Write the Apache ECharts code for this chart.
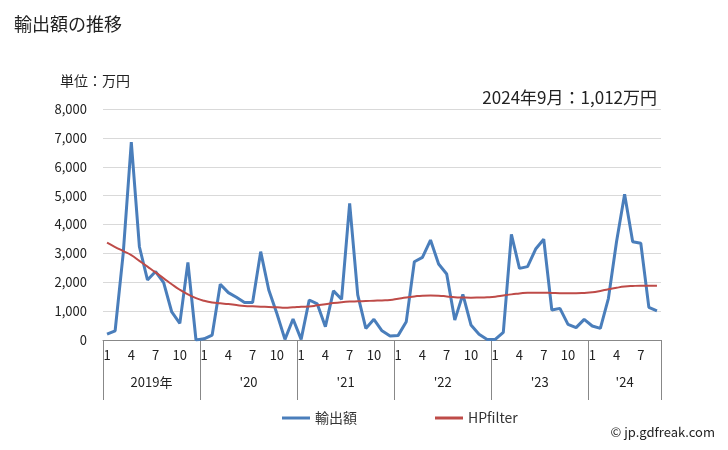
<!DOCTYPE html>
<html><head><meta charset="utf-8">
<script src="https://cdn.jsdelivr.net/npm/echarts@6/dist/echarts.min.js"></script>
<style>html,body{margin:0;padding:0;background:#fff}#c{width:728px;height:450px}</style>
</head><body><div id="c"></div>
<script>
const years = [2019, 2020, 2021, 2022, 2023, 2024];
const yearLabels = ['2019年', "'20", "'21", "'22", "'23", "'24"];
const monthsPerYear = [12, 12, 12, 12, 12, 9];
const monthTickLabels = [1, 4, 7, 10];
const exportValues = [
  200, 320, 3000, 6850, 3230, 2080, 2370, 1985, 970, 577, 2690, 0,
  40, 170, 1930, 1640, 1480, 1300, 1300, 3060, 1730, 920, 20, 727,
  20, 1385, 1250, 462, 1700, 1410, 4730, 1560, 400, 715, 320, 140,
  160, 635, 2710, 2860, 3460, 2630, 2285, 690, 1580, 520, 200, 20,
  20, 265, 3660, 2480, 2540, 3150, 3490, 1040, 1095, 543, 427, 715,
  485, 404, 1443, 3400, 5045, 3405, 3350, 1130, 1012
];
const hpValues = [
  3370, 3220, 3080, 2940, 2740, 2540, 2340, 2135, 1930, 1740, 1580, 1450,
  1360, 1300, 1270, 1245, 1210, 1180, 1165, 1155, 1140, 1130, 1115, 1130,
  1150, 1160, 1200, 1240, 1280, 1310, 1330, 1340, 1350, 1360, 1370, 1385,
  1430, 1475, 1510, 1535, 1540, 1535, 1510, 1480, 1470, 1465, 1470, 1480,
  1500, 1540, 1580, 1610, 1640, 1640, 1640, 1630, 1620, 1620, 1620, 1630,
  1650, 1700, 1760, 1810, 1850, 1870, 1880, 1880, 1880
];
const yTicks = [0, 1000, 2000, 3000, 4000, 5000, 6000, 7000, 8000];

const categories = [];
years.forEach((y, i) => { for (let m = 1; m <= monthsPerYear[i]; m++) categories.push(y + '-' + m); });
const boundaries = [0]; const centers = [];
monthsPerYear.forEach((n, i) => { const s = boundaries[boundaries.length - 1]; centers.push(s + n / 2); boundaries.push(s + n); });

const FONT = '"Noto Sans CJK JP", "Noto Sans", sans-serif';
const chart = echarts.init(document.getElementById('c'));
chart.setOption({
  animation: false,
  textStyle: { fontFamily: FONT },
  title: [
    { text: '輸出額の推移', left: 9, top: 10, textStyle: { fontSize: 18, fontWeight: 'normal', color: '#222', fontFamily: FONT } },
    { text: '単位：万円', left: 55, top: 69, textStyle: { fontSize: 14, fontWeight: 'normal', color: '#222', fontFamily: FONT } },
    { text: '2024年9月：1,012万円', right: 66, top: 84, textStyle: { fontSize: 17, fontWeight: 'normal', color: '#222', fontFamily: FONT } },
    { text: '© jp.gdfreak.com', right: 8, top: 421, textStyle: { fontSize: 13, fontWeight: 'normal', color: '#222', fontFamily: FONT } }
  ],
  grid: { left: 103, right: 67, top: 109, bottom: 110, containLabel: false },
  legend: {
    top: 406, left: 277, itemGap: 78, itemWidth: 28, itemHeight: 3,
    icon: 'rect',
    textStyle: { fontSize: 14, color: '#333', fontFamily: FONT },
    data: ['輸出額', 'HPfilter']
  },
  xAxis: [
    {
      type: 'category', data: categories, boundaryGap: true,
      axisLine: { lineStyle: { color: '#888', width: 1 } },
      axisTick: { show: false },
      axisLabel: {
        interval: 0, margin: 9, fontSize: 13, color: '#222', fontFamily: FONT,
        formatter: v => { const m = +v.split('-')[1]; return monthTickLabels.includes(m) ? String(m) : ''; }
      }
    },
    {
      type: 'value', position: 'bottom', min: 0, max: boundaries[boundaries.length - 1],
      axisLine: { show: false },
      splitLine: { show: false },
      axisTick: { show: true, length: 60, customValues: boundaries, lineStyle: { color: '#888', width: 1 } },
      axisLabel: {
        customValues: centers, margin: 36, fontSize: 13, color: '#222', fontFamily: FONT,
        formatter: v => { const i = centers.indexOf(v); return i >= 0 ? yearLabels[i] : ''; }
      }
    }
  ],
  yAxis: {
    type: 'value', min: 0, max: 8000, interval: 1000,
    axisLine: { show: false }, axisTick: { show: false },
    splitLine: { lineStyle: { color: '#d9d9d9', width: 1 } },
    axisLabel: { margin: 16, fontSize: 13, color: '#222', fontFamily: FONT,
      formatter: v => yTicks.includes(v) ? v.toLocaleString('en-US') : '' }
  },
  series: [
    { name: '輸出額', type: 'line', xAxisIndex: 0, data: exportValues, symbol: 'none',
      lineStyle: { color: '#4a7ebb', width: 3 }, itemStyle: { color: '#4a7ebb' } },
    { name: 'HPfilter', type: 'line', xAxisIndex: 0, data: hpValues, symbol: 'none', smooth: true,
      lineStyle: { color: '#be4b48', width: 2 }, itemStyle: { color: '#be4b48' } }
  ]
});
</script></body></html>
